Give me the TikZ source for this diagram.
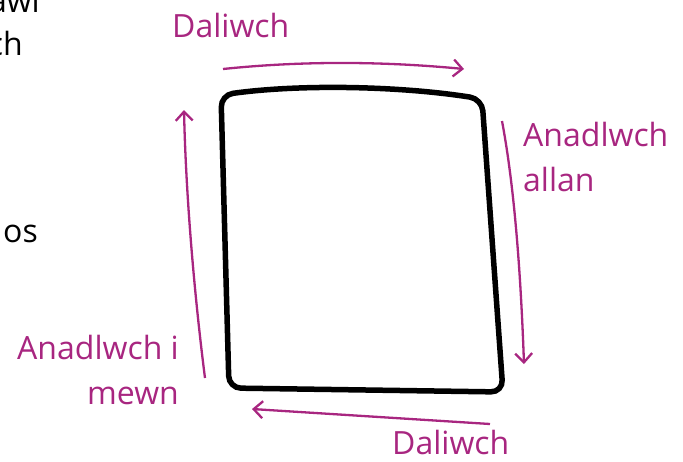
\documentclass[tikz,border=0pt]{standalone}
\usepackage{fontspec}
\setmainfont{Open Sans}
\usetikzlibrary{arrows.meta}
\definecolor{plum}{RGB}{168,38,128}
\tikzset{
  flow/.style={draw=plum, line width=2.3pt, -{Straight Barb[length=9pt,width=17pt,line width=2.3pt]}},
  lbl/.style={text=plum, font=\fontsize{32}{45}\selectfont, inner sep=0pt},
  frag/.style={text=black, font=\fontsize{32}{45}\selectfont, inner sep=0pt},
  frame/.style={draw=black, line width=5.5pt, rounded corners=12pt}
}
\begin{document}
\begin{tikzpicture}[x=1pt,y=-1pt]
\useasboundingbox (0,0) rectangle (683,461);
% cut-off text fragments at the left edge
\node[frag, anchor=base east] (f1) at (40,12) {awl};
\node[frag, anchor=base east] (f2) at (23,55) {ch};
\node[frag, anchor=base east] (f3) at (38,242) {os};
% box
\draw[frame] (221,95) .. controls (300,84) and (400,86) .. (482,99)
  -- (503,392) -- (229,388) -- cycle;
% coordinates for arrows
\coordinate (t1) at (223,69);
\coordinate (t2) at (464,69);
\coordinate (r1) at (502,121);
\coordinate (r2) at (524,364);
\coordinate (b1) at (490,424);
\coordinate (b2) at (252,409);
\coordinate (l1) at (205,378);
\coordinate (l2) at (184,110);
\draw[flow] (t1) .. controls (300,61) and (380,61) .. (t2);
\draw[flow] (r1) .. controls (515,190) and (521,280) .. (r2);
\draw[flow] (b1) -- (b2);
\draw[flow] (l1) .. controls (195,300) and (186,200) .. (l2);
% labels
\node[lbl, anchor=base west] (dt) at (172,37) {Daliwch};
\node[lbl, anchor=base west, align=left] (ra) at (523,191) {Anadlwch\\allan};
\node[lbl, anchor=base west] (db) at (392,454) {Daliwch};
\node[lbl, anchor=base east, align=right] (la) at (179,404) {Anadlwch i\\mewn};
\end{tikzpicture}
\end{document}
